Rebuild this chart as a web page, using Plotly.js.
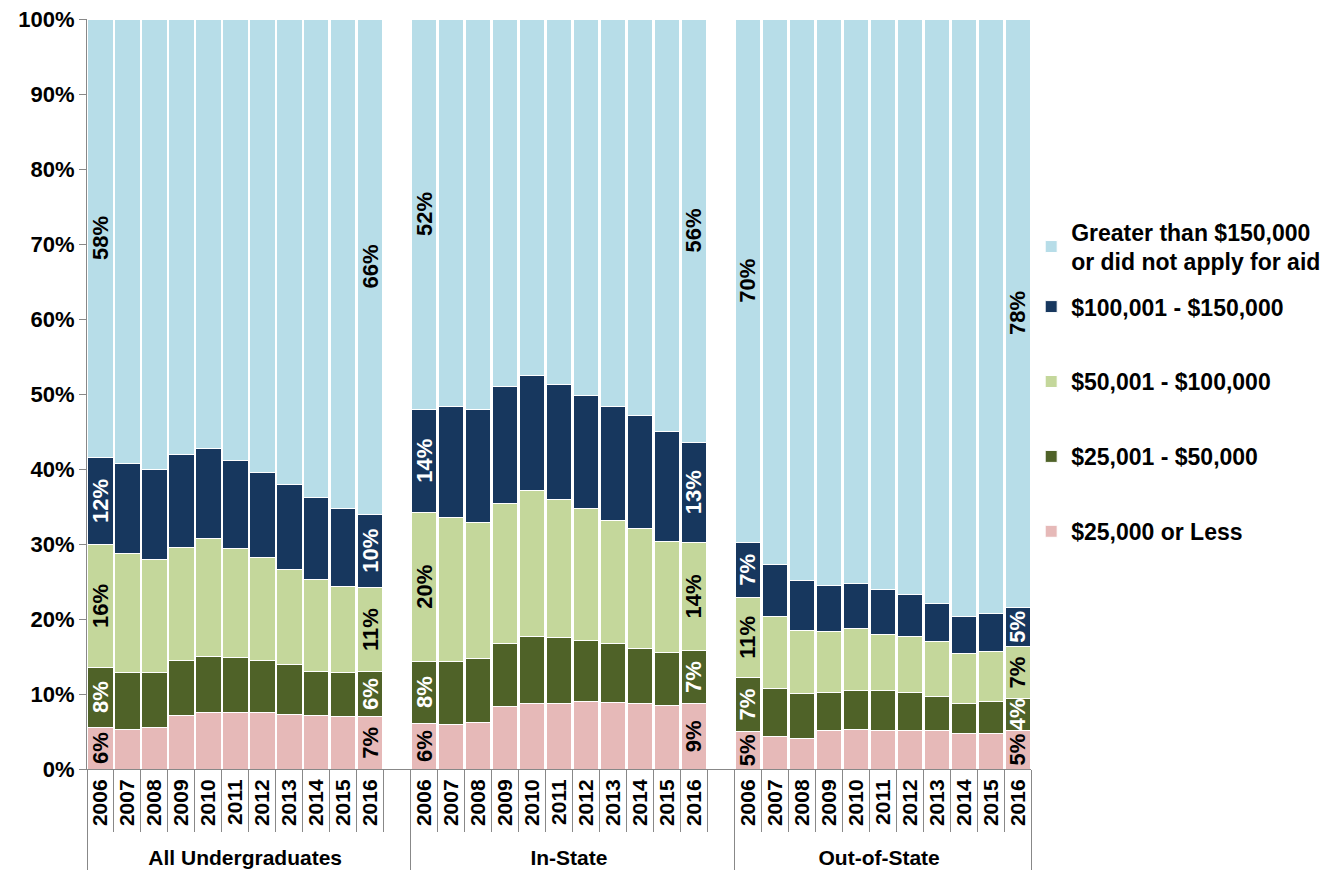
<!DOCTYPE html>
<html>
<head>
<meta charset="utf-8">
<script src="https://cdn.plot.ly/plotly-3.0.1.min.js"></script>
<style>
  html, body { margin: 0; padding: 0; background: #fff; }
  #chart { width: 1334px; height: 872px; }
</style>
</head>
<body>
<div id="chart"></div>
<script>
var groups = ['All Undergraduates', 'In-State', 'Out-of-State'];
var years = ['2006', '2007', '2008', '2009', '2010', '2011', '2012', '2013', '2014', '2015', '2016'];

// share of students (%) by family income, one line per group, 2006..2016
var under25k = [
  5.6, 5.3, 5.5, 7.2, 7.5, 7.5, 7.5, 7.3, 7.2, 7.0, 7.0,
  6.1, 6.0, 6.2, 8.4, 8.8, 8.8, 9.0, 8.9, 8.8, 8.5, 8.7,
  5.0, 4.4, 4.1, 5.2, 5.3, 5.1, 5.1, 5.2, 4.8, 4.8, 5.2
];
var from25to50k = [
  8.0, 7.6, 7.4, 7.3, 7.5, 7.4, 7.0, 6.6, 5.8, 5.9, 6.0,
  8.3, 8.3, 8.5, 8.4, 8.9, 8.7, 8.1, 7.8, 7.3, 7.1, 7.1,
  7.2, 6.4, 6.0, 5.0, 5.2, 5.4, 5.1, 4.5, 3.9, 4.2, 4.2
];
var from50to100k = [
  16.3, 15.8, 15.1, 15.0, 15.7, 14.5, 13.7, 12.7, 12.3, 11.4, 11.2,
  19.8, 19.3, 18.2, 18.6, 19.5, 18.5, 17.7, 16.4, 16.0, 14.8, 14.4,
  10.7, 9.5, 8.4, 8.2, 8.2, 7.5, 7.5, 7.3, 6.7, 6.7, 6.9
];
var from100to150k = [
  11.7, 12.1, 12.0, 12.4, 12.0, 11.8, 11.4, 11.3, 10.9, 10.4, 9.8,
  13.8, 14.7, 15.1, 15.6, 15.3, 15.3, 15.0, 15.3, 15.0, 14.6, 13.4,
  7.3, 7.0, 6.7, 6.1, 6.1, 6.0, 5.6, 5.1, 5.0, 5.1, 5.3
];
var over150k = [
  58.4, 59.2, 60.0, 58.1, 57.3, 58.8, 60.4, 62.1, 63.8, 65.3, 66.0,
  52.0, 51.7, 52.0, 49.0, 47.5, 48.7, 50.2, 51.6, 52.9, 55.0, 56.4,
  69.8, 72.7, 74.8, 75.5, 75.2, 76.0, 76.7, 77.9, 79.6, 79.2, 78.4
];

// category slots: 11 years per group, plus an empty slot between groups
var xGroup = [], xYear = [];
groups.forEach(function (g, gi) {
  years.forEach(function (yr) { xGroup.push(g); xYear.push(yr); });
  if (gi < groups.length - 1) { xGroup.push(g); xYear.push(' '); }
});

function slots(vals) {
  var y = [], text = [];
  groups.forEach(function (g, gi) {
    years.forEach(function (yr, yi) {
      var v = vals[gi * years.length + yi];
      y.push(v);
      // only the first and last year of each group is labelled
      text.push(yi === 0 || yi === years.length - 1 ? Math.round(v) + '%' : '');
    });
    if (gi < groups.length - 1) { y.push(null); text.push(''); }
  });
  return { y: y, text: text };
}

function bar(name, vals, color, textColor, legend, rank) {
  var s = slots(vals);
  return {
    type: 'bar',
    name: name,
    x: [xGroup, xYear],
    y: s.y,
    text: s.text,
    textposition: 'inside',
    insidetextanchor: 'middle',
    textangle: -90,
    constraintext: 'none',
    textfont: { color: textColor, size: 22, weight: 'bold' },
    marker: { color: color, line: { color: '#fff', width: 1 } },
    legend: legend,
    legendgroup: name,
    legendrank: rank,
    hoverinfo: 'skip'
  };
}

var data = [
  bar('$25,000 or Less', under25k, '#E6B9B8', '#000', 'legend', 4),
  bar('$25,001 - $50,000', from25to50k, '#4F6228', '#fff', 'legend', 3),
  bar('$50,001 - $100,000', from50to100k, '#C4D79B', '#000', 'legend', 2),
  bar('$100,001 - $150,000', from100to150k, '#17375E', '#fff', 'legend', 1),
  bar('Greater than $150,000<br>or did not apply for aid', over150k, '#B7DDE8', '#000', 'legend2', 0)
];

var layout = {
  width: 1334,
  height: 872,
  margin: { l: 87, r: 299, t: 19, b: 103 },
  barmode: 'stack',
  bargap: 0.06,
  paper_bgcolor: '#fff',
  plot_bgcolor: '#fff',
  font: { family: 'Liberation Sans, Arial, sans-serif', size: 22, color: '#000', weight: 'bold' },
  xaxis: {
    type: 'multicategory',
    tickangle: -90,
    tickfont: { size: 21, weight: 'bold' },
    showline: true,
    linecolor: '#888',
    ticks: 'outside',
    tickson: 'boundaries',
    ticklen: 62,
    tickcolor: '#888',
    ticklabelstandoff: 1,
    showdividers: true,
    dividercolor: '#888',
    dividerwidth: 1,
    showgrid: false,
    automargin: false
  },
  yaxis: {
    range: [0, 100],
    dtick: 10,
    ticksuffix: '%',
    tickfont: { size: 22, weight: 'bold' },
    showline: true,
    linecolor: '#888',
    ticks: 'outside',
    ticklen: 7,
    tickcolor: '#888',
    showgrid: false,
    zeroline: false,
    automargin: false
  },
  showlegend: true,
  legend: {
    xref: 'container', yref: 'container',
    x: 0.773, y: 0.673, xanchor: 'left', yanchor: 'top',
    traceorder: 'grouped',
    tracegroupgap: 42,
    font: { size: 23, weight: 'bold' },
    bgcolor: 'rgba(0,0,0,0)'
  },
  legend2: {
    xref: 'container', yref: 'container',
    x: 0.773, y: 0.759, xanchor: 'left', yanchor: 'top',
    font: { size: 23, weight: 'bold' },
    bgcolor: 'rgba(0,0,0,0)'
  }
};

Plotly.newPlot('chart', data, layout, { displayModeBar: false, staticPlot: true });
</script>
</body>
</html>
